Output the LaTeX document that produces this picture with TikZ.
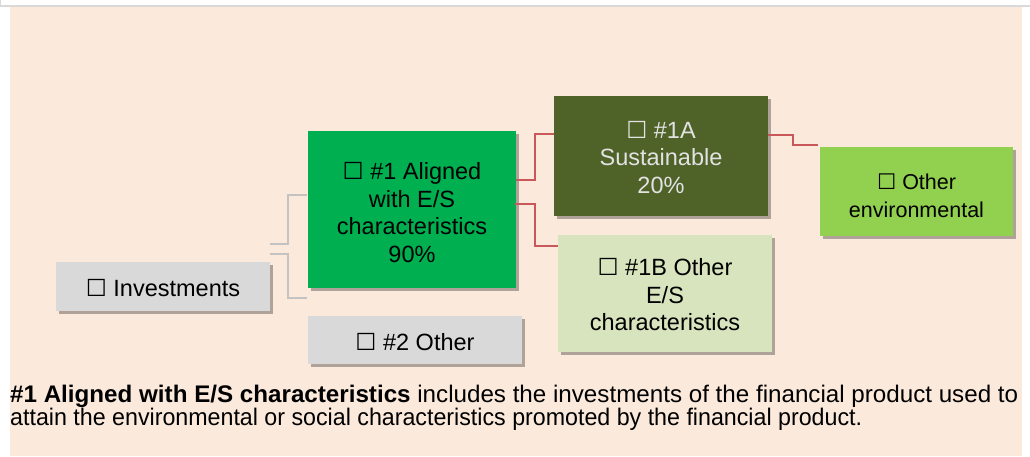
\documentclass[tikz,border=0pt]{standalone}
\usepackage{fontspec}
\usepackage{graphicx}
\setmainfont{Liberation Sans}
\newfontfamily\symf{DejaVu Sans}
\usetikzlibrary{calc,shadows}
\definecolor{peach}{HTML}{FBE9DB}
\definecolor{frame}{HTML}{D9D9D9}
\definecolor{boxgray}{HTML}{D9D9D9}
\definecolor{green1}{HTML}{00B050}
\definecolor{olive}{HTML}{4F6228}
\definecolor{palegreen}{HTML}{D7E4BD}
\definecolor{lightgreen}{HTML}{92D050}
\definecolor{linegray}{HTML}{C3C3C3}
\definecolor{linered}{HTML}{C9585A}
\definecolor{lighttext}{HTML}{E2E2E2}
\newcommand{\bx}{{\symf\char"2610}}
\newcommand{\lines}[2][0pt]{\raisebox{#1}[\height][\depth]{\begin{tabular}{@{}c@{}}#2\end{tabular}}}
\tikzset{
  box/.style={draw=none, align=center, inner sep=0pt,
    font=\fontsize{23.5}{27.5}\selectfont,
    drop shadow={shadow xshift=3pt, shadow yshift=-3pt, opacity=0.3, fill=black}},
  grayline/.style={draw=linegray, line width=2pt},
  redline/.style={draw=linered, line width=2pt}
}
\begin{document}
\begin{tikzpicture}[x=1pt,y=-1pt]
\useasboundingbox (0,0) rectangle (1030,456);
\fill[white] (0,0) rectangle (1030,456);
\fill[peach] (10,7) rectangle (1022,456);
\fill[frame] (0,5) rectangle (1030,7);
\fill[frame] (0,0) rectangle (1,5);

\node[box, fill=boxgray, minimum width=214pt, minimum height=49pt] (inv) at (163,286.5) {\lines[-4pt]{\bx\ Investments}};
\node[box, fill=green1, minimum width=208pt, minimum height=157pt] (a1) at (412,209.5) {\lines[-6pt]{\bx\ \#1 Aligned\\with E/S\\characteristics\\90\%}};
\node[box, fill=boxgray, minimum width=214pt, minimum height=48pt] (o2) at (415,340) {\lines[-5pt]{\bx\ \#2 Other}};
\node[box, fill=olive, text=lighttext, minimum width=214pt, minimum height=120pt] (s1a) at (661,156) {\lines[-4pt]{\bx\ \#1A\\Sustainable\\20\%}};
\node[box, fill=palegreen, minimum width=214pt, minimum height=117pt] (o1b) at (665,293.5) {\lines[-4pt]{\bx\ \#1B Other\\E/S\\characteristics}};
\node[box, fill=lightgreen, minimum width=193pt, minimum height=89pt, font=\fontsize{21.5}{28}\selectfont] (env) at (916.5,191.5) {\lines[-6pt]{\bx\ Other\\environmental}};

\draw[grayline] ($(inv.north east)+(0,-18)$) -- ++(18,0) |- ($(a1.north west)+(-1,64)$);
\draw[grayline] ($(inv.north east)+(0,-8)$) -- ++(18,0) |- ($(a1.south west)+(-1,10)$);

\draw[redline] ($(a1.north east)+(0,49)$) -- ++(19,0) |- ($(s1a.north west)+(0,38)$);
\draw[redline] ($(a1.north east)+(-1,73)$) -- ++(20,0) |- ($(o1b.north west)+(0,11)$);
\draw[redline] ($(s1a.north east)+(0,39)$) -- ++(25,0) |- ($(env.north west)+(-2,-2)$);

\node[anchor=base west, inner sep=0pt, font=\fontsize{24}{26}\selectfont] (t1) at (10,402) {\resizebox{1008pt}{\height}{\textbf{\#1 Aligned with E/S characteristics} includes the investments of the financial product used to}};
\node[anchor=base west, inner sep=0pt, font=\fontsize{24}{26}\selectfont] (t2) at (10,425) {\resizebox{852pt}{\height}{attain the environmental or social characteristics promoted by the financial product.}};
\end{tikzpicture}
\end{document}
